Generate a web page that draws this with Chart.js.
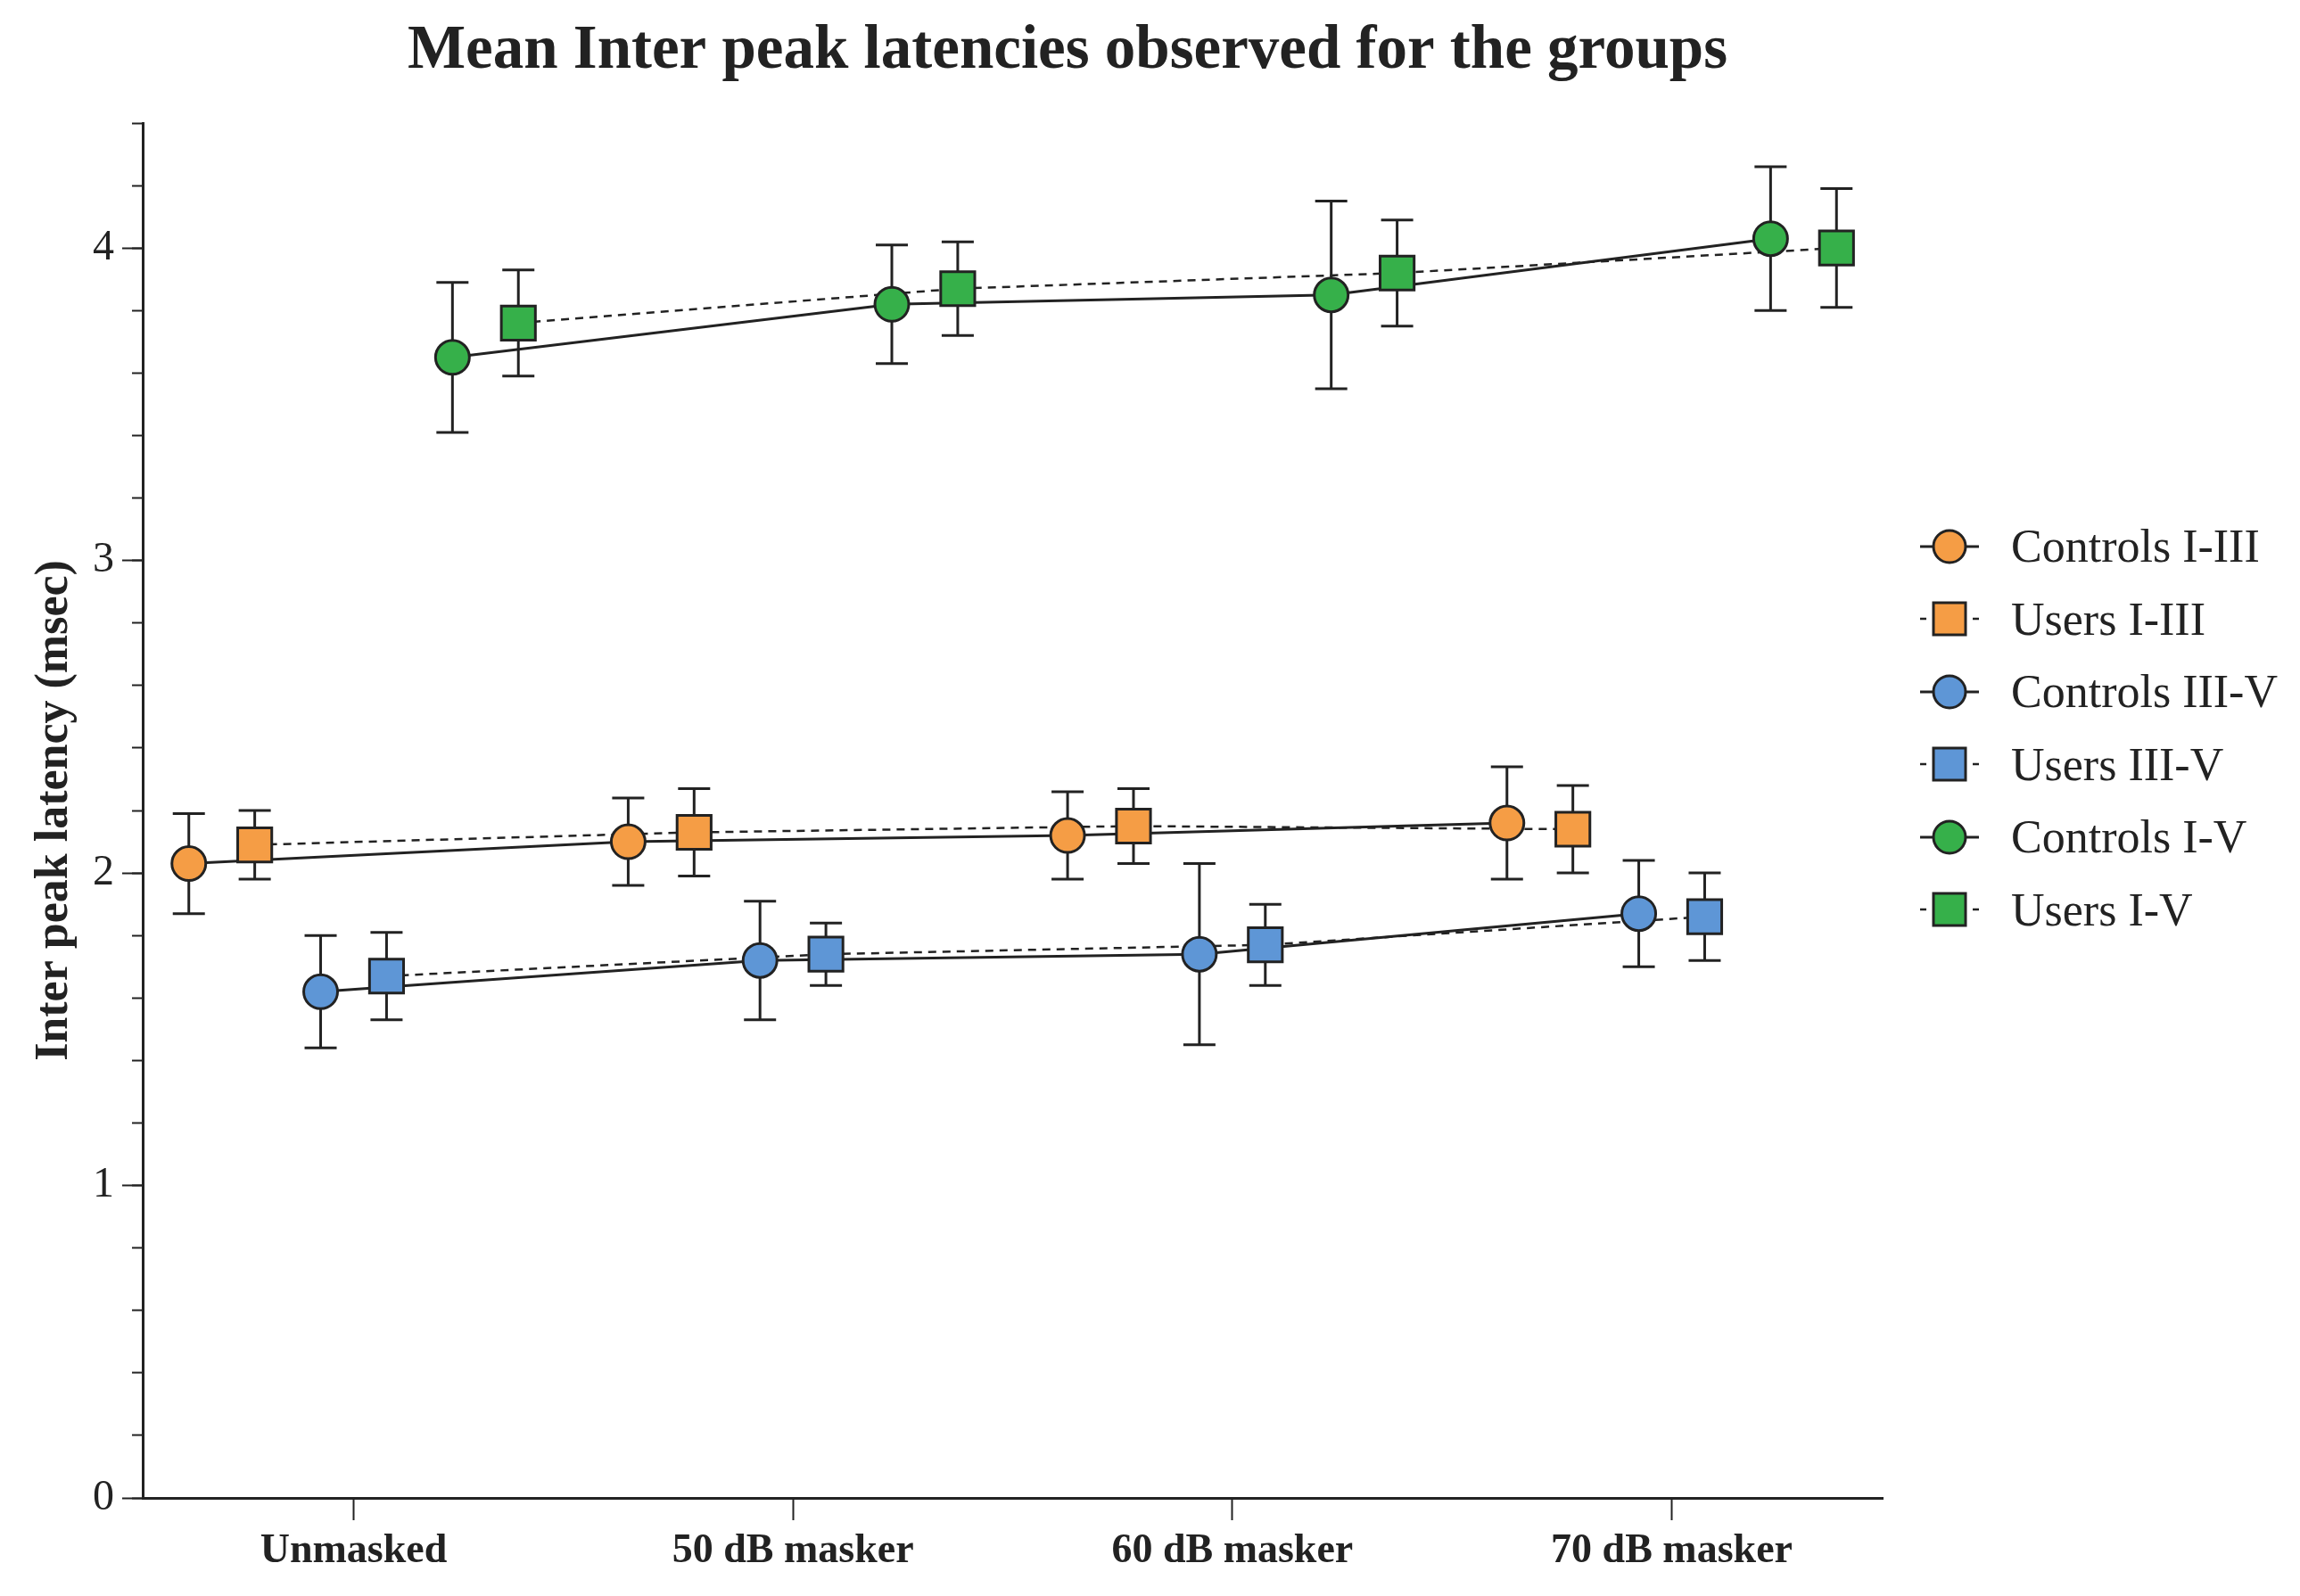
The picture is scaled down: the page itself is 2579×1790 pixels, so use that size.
<!DOCTYPE html>
<html>
<head>
<meta charset="utf-8">
<script src="https://cdn.jsdelivr.net/npm/chart.js@4.4.1/dist/chart.umd.min.js"></script>
<style>
  body { margin: 0; background: #fff; }
  #wrap { position: relative; width: 2579px; height: 1790px; }
  #legend { position: absolute; left: 2151px; top: 572px; font-family: "Liberation Serif", serif; font-size: 52px; color: #222; }
  .row { display: flex; align-items: center; height: 81.5px; white-space: nowrap; }
  .row svg { width: 70px; height: 44px; margin-right: 34px; }
</style>
</head>
<body>
<div id="wrap">
  <canvas id="chart" width="2579" height="1790"></canvas>
  <div id="legend"></div>
</div>
<script>
const categories = ["Unmasked", "50 dB masker", "60 dB masker", "70 dB masker"];
const yTicks = [0, 1, 2, 3, 4];

const controlsI_III = [2.03, 2.10, 2.12, 2.16];
const controlsI_III_err = [0.16, 0.14, 0.14, 0.18];
const usersI_III = [2.09, 2.13, 2.15, 2.14];
const usersI_III_err = [0.11, 0.14, 0.12, 0.14];
const controlsIII_V = [1.62, 1.72, 1.74, 1.87];
const controlsIII_V_err = [0.18, 0.19, 0.29, 0.17];
const usersIII_V = [1.67, 1.74, 1.77, 1.86];
const usersIII_V_err = [0.14, 0.10, 0.13, 0.14];
const controlsI_V = [3.65, 3.82, 3.85, 4.03];
const controlsI_V_err = [0.24, 0.19, 0.30, 0.23];
const usersI_V = [3.76, 3.87, 3.92, 4.00];
const usersI_V_err = [0.17, 0.15, 0.17, 0.19];

const orange = "#F59D45";
const blue = "#5E96D6";
const green = "#36B04A";
const ink = "#222222";

const series = [
  { label: "Controls I-III", values: controlsI_III, errors: controlsI_III_err, color: orange, shape: "circle", offset: -0.375 },
  { label: "Users I-III", values: usersI_III, errors: usersI_III_err, color: orange, shape: "rect", offset: -0.225 },
  { label: "Controls III-V", values: controlsIII_V, errors: controlsIII_V_err, color: blue, shape: "circle", offset: -0.075 },
  { label: "Users III-V", values: usersIII_V, errors: usersIII_V_err, color: blue, shape: "rect", offset: 0.075 },
  { label: "Controls I-V", values: controlsI_V, errors: controlsI_V_err, color: green, shape: "circle", offset: 0.225 },
  { label: "Users I-V", values: usersI_V, errors: usersI_V_err, color: green, shape: "rect", offset: 0.375 }
];

const datasets = [];
series.forEach(s => {
  const pts = s.values.map((v, i) => ({ x: i + s.offset, y: v }));
  const dashed = s.shape === "rect";
  // connecting line, drawn under all markers
  datasets.push({
    label: s.label + " line",
    data: pts,
    showLine: true,
    borderColor: ink,
    borderWidth: dashed ? 2.5 : 3,
    borderDash: dashed ? [9, 7] : [],
    pointRadius: 0,
    fill: false,
    order: 2
  });
  datasets.push({
    label: s.label,
    data: pts,
    showLine: false,
    pointStyle: s.shape,
    pointRadius: s.shape === "rect" ? 27 : 19,
    pointBackgroundColor: s.color,
    pointBorderColor: ink,
    pointBorderWidth: 3,
    errors: s.errors,
    order: 1
  });
});

const errorBars = {
  id: "errorBars",
  beforeDatasetsDraw(chart) {
    const ctx = chart.ctx;
    const y = chart.scales.y;
    ctx.save();
    ctx.strokeStyle = ink;
    ctx.lineWidth = 3;
    chart.data.datasets.forEach((ds, i) => {
      if (!ds.errors) return;
      chart.getDatasetMeta(i).data.forEach((el, j) => {
        const v = ds.data[j].y;
        const top = y.getPixelForValue(v + ds.errors[j]);
        const bot = y.getPixelForValue(v - ds.errors[j]);
        ctx.beginPath();
        ctx.moveTo(el.x, top); ctx.lineTo(el.x, bot);
        ctx.moveTo(el.x - 18, top); ctx.lineTo(el.x + 18, top);
        ctx.moveTo(el.x - 18, bot); ctx.lineTo(el.x + 18, bot);
        ctx.stroke();
      });
    });
    ctx.restore();
  }
};

const titleText = {
  id: "titleText",
  afterDraw(chart) {
    const ctx = chart.ctx;
    ctx.save();
    ctx.font = "bold 69px 'Liberation Serif'";
    ctx.fillStyle = ink;
    ctx.textAlign = "center";
    ctx.textBaseline = "middle";
    ctx.fillText("Mean Inter peak latencies observed for the groups", 1197, 58);
    ctx.restore();
  }
};

const chart = new Chart(document.getElementById("chart"), {
  type: "scatter",
  data: { datasets },
  plugins: [errorBars, titleText],
  options: {
    responsive: false,
    animation: false,
    devicePixelRatio: 1,
    layout: { padding: { left: 0, top: 138, right: 468, bottom: 0 } },
    plugins: { legend: { display: false }, tooltip: { enabled: false } },
    scales: {
      x: {
        type: "linear",
        min: -0.48,
        max: 3.48,
        afterBuildTicks: s => { s.ticks = categories.map((c, i) => ({ value: i })); },
        afterFit: s => { s.height = 110; },
        grid: { drawOnChartArea: false, tickLength: 25, tickWidth: 2, tickColor: ink },
        border: { color: ink, width: 3 },
        ticks: {
          autoSkip: false, maxRotation: 0, padding: 8, color: ink,
          font: { family: "Liberation Serif", weight: "bold", size: 46 },
          callback: v => categories[v]
        }
      },
      y: {
        type: "linear",
        min: 0,
        max: 4.4,
        weight: 1,
        afterBuildTicks: s => { s.ticks = yTicks.map(v => ({ value: v })); },
        afterFit: s => { s.width = 160; },
        grid: { drawOnChartArea: false, tickLength: 23, tickWidth: 2, tickColor: ink },
        border: { color: ink, width: 3 },
        ticks: {
          padding: 9, color: ink,
          font: { family: "Liberation Serif", size: 48 }
        },
        title: {
          display: true,
          text: "Inter peak latency (msec)",
          color: ink,
          padding: { top: 30, bottom: 0 },
          font: { family: "Liberation Serif", weight: "bold", size: 52 }
        }
      },
      yMinor: {
        type: "linear",
        position: "left",
        min: 0,
        max: 4.4,
        weight: 0,
        afterFit: s => { s.width = 0; },
        grid: { drawOnChartArea: false, tickLength: 12, tickWidth: 2, tickColor: ink },
        border: { display: false },
        ticks: { display: false, stepSize: 0.2 }
      }
    }
  }
});

// legend: line + marker + label, one row per series
const legend = document.getElementById("legend");
series.forEach(s => {
  const row = document.createElement("div");
  row.className = "row";
  const dashed = s.shape === "rect";
  const line = dashed
    ? `<line x1="2" y1="22" x2="9" y2="22" stroke="${ink}" stroke-width="2.5"/><line x1="61" y1="22" x2="68" y2="22" stroke="${ink}" stroke-width="2.5"/>`
    : `<line x1="2" y1="22" x2="68" y2="22" stroke="${ink}" stroke-width="3"/>`;
  const mark = s.shape === "circle"
    ? `<circle cx="35" cy="22" r="18" fill="${s.color}" stroke="${ink}" stroke-width="3"/>`
    : `<rect x="17" y="4" width="36" height="36" fill="${s.color}" stroke="${ink}" stroke-width="3"/>`;
  row.innerHTML = `<svg viewBox="0 0 70 44">${line}${mark}</svg><span>${s.label}</span>`;
  legend.appendChild(row);
});
</script>
</body>
</html>
